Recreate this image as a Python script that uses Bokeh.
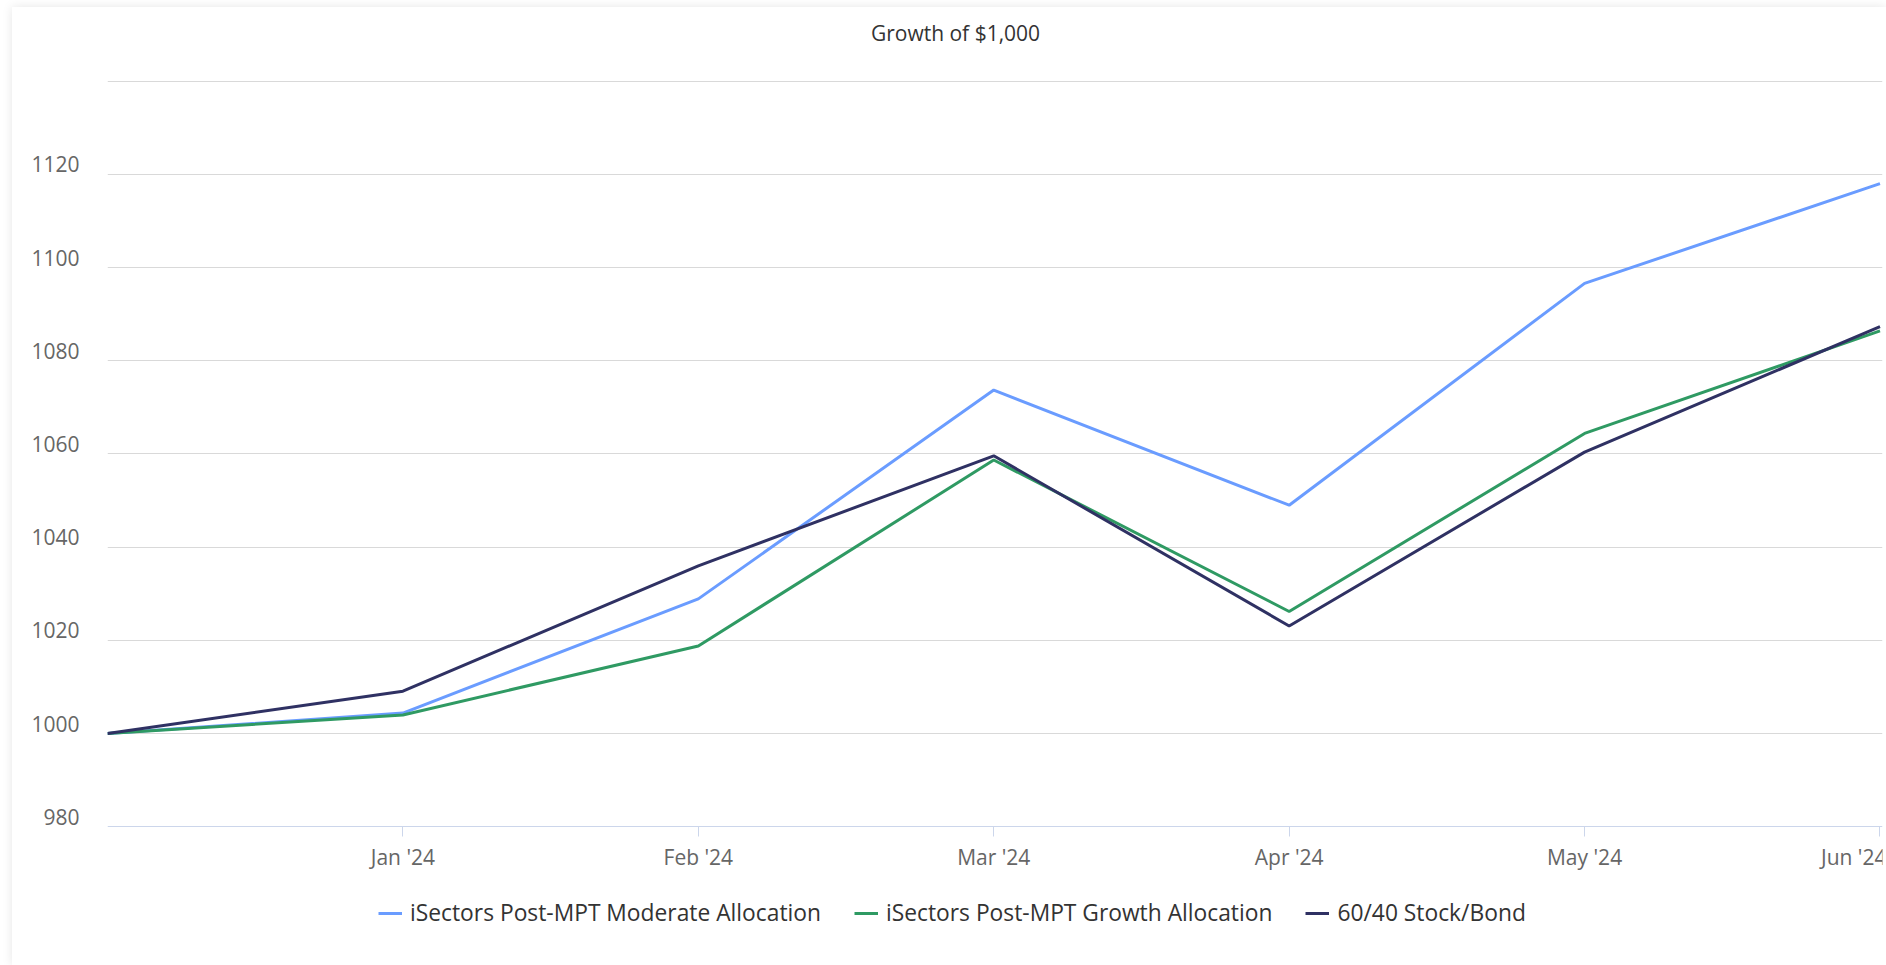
from bokeh.plotting import figure
from bokeh.models import (Range1d, LinearAxis, FixedTicker, Grid, Legend,
                          LegendItem, Label)
from bokeh.embed import file_html
from bokeh.resources import INLINE

# ---- data ----
months = ["Dec '23", "Jan '24", "Feb '24", "Mar '24", "Apr '24", "May '24", "Jun '24"]
x_idx = [0, 1, 2, 3, 4, 5, 6]
moderate = [1000.0, 1004.4, 1028.9, 1073.7, 1049.0, 1096.6, 1118.0]
growth = [1000.0, 1004.0, 1018.8, 1058.7, 1026.2, 1064.4, 1086.4]
stock_bond = [1000.0, 1009.1, 1036.0, 1059.6, 1023.1, 1060.4, 1087.3]
series_names = ["iSectors Post-MPT Moderate Allocation",
                "iSectors Post-MPT Growth Allocation",
                "60/40 Stock/Bond"]
title_text = "Growth of $1,000"
y_label_ticks = [980, 1000, 1020, 1040, 1060, 1080, 1100, 1120]
y_grid_ticks = [1000, 1020, 1040, 1060, 1080, 1100, 1120, 1140]
x_label_ticks = [1, 2, 3, 4, 5, 6]
y_min, y_max = 980, 1140

colors = ["#6a9cff", "#2f9a63", "#2f3163"]
FONT = "Open Sans"

# ---- layout (pixels) ----
W, H = 1874, 958
LEFT, RIGHT = 95, 4
PLOT_TOP = 73.6          # pixel row of the top gridline inside the figure
PLOT_H = 745.7           # pixel height of the 980..1140 band
k = PLOT_H / (y_max - y_min)             # px per unit
y_top = y_max + PLOT_TOP / k
y_bot = y_max - (H - PLOT_TOP) / k
x_end = 6.0085
frame_w = W - LEFT - RIGHT
shift = 10 / k                           # y labels float 10px above their gridline

p = figure(width=W, height=H, x_range=Range1d(0, x_end), y_range=Range1d(y_bot, y_top),
           x_axis_location=None, y_axis_location=None,
           output_backend="svg", toolbar_location=None,
           min_border_top=0, min_border_bottom=0,
           min_border_left=LEFT, min_border_right=RIGHT)
p.center = []
p.outline_line_color = None
p.background_fill_color = "white"
p.border_fill_color = "white"
p.extra_y_ranges = {"lab": Range1d(y_bot - shift, y_top - shift)}

grid = Grid(dimension=1, ticker=FixedTicker(ticks=y_grid_ticks),
            grid_line_color="#d9d9d9", grid_line_width=1)
p.add_layout(grid)

yax = LinearAxis(y_range_name="lab", ticker=FixedTicker(ticks=y_label_ticks),
                 axis_line_color=None, major_tick_line_color=None,
                 minor_tick_line_color=None, major_tick_out=0, major_tick_in=0,
                 major_label_standoff=28, major_label_text_font_size="21px",
                 major_label_text_color="#666666", major_label_text_font=FONT)
p.add_layout(yax, "left")

overrides = {float(t): months[t] for t in x_label_ticks}
xax = LinearAxis(ticker=FixedTicker(ticks=x_label_ticks), fixed_location=y_min,
                 major_label_overrides=overrides,
                 axis_line_color="#ccd6eb", axis_line_width=1,
                 major_tick_line_color="#ccd6eb", major_tick_out=10, major_tick_in=0,
                 minor_tick_line_color=None, major_label_standoff=6,
                 major_label_text_font_size="21px", major_label_text_color="#666666",
                 major_label_text_font=FONT)
p.add_layout(xax, "below")

renderers = []
for ys, c in zip([moderate, growth, stock_bond], colors):
    r = p.line(x_idx, ys, line_color=c, line_width=3)
    renderers.append(r)

# title, centred on the card (page x ~955)
title_x = (943 - LEFT) / frame_w * x_end
title_y = y_max + (PLOT_TOP - 25) / k
p.add_layout(Label(x=title_x, y=title_y, text=title_text, text_align="center",
                   text_baseline="middle", text_font_size="21px",
                   text_color="#333333", text_font=FONT))

legend = Legend(items=[LegendItem(label=n, renderers=[r]) for n, r in zip(series_names, renderers)],
                orientation="horizontal", location=(271, 37),
                border_line_color=None, background_fill_alpha=0,
                label_text_font_size="22.8px", label_text_color="#333333",
                label_text_font=FONT, glyph_width=24, glyph_height=26, label_height=26,
                label_standoff=8, spacing=33, padding=0, margin=0)
p.add_layout(legend)

p.margin = (7, 0, 0, 12)
p.styles = {"box-shadow": "0 0 10px rgba(0,0,0,0.10)"}

open("out.html", "w").write(file_html(p, INLINE))
